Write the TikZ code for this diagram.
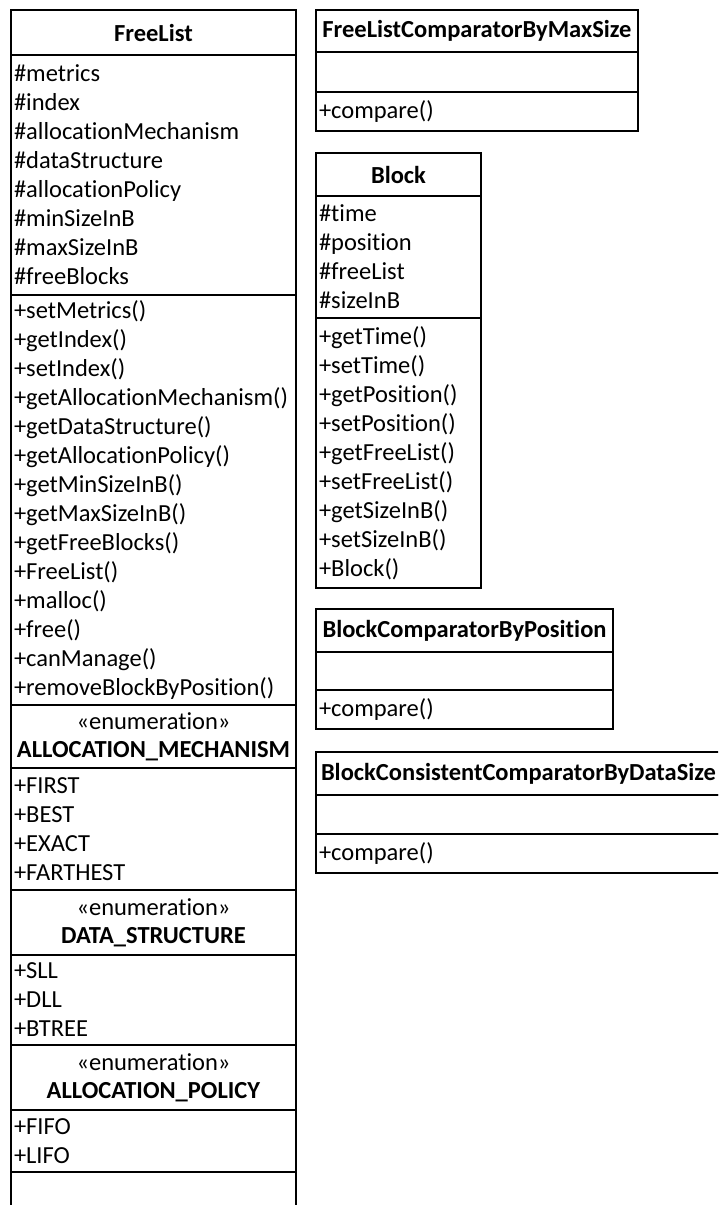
\documentclass[tikz,border=0pt]{standalone}
\usepackage{fontspec}
\setmainfont{Carlito}[Ligatures=NoCommon]
\usetikzlibrary{positioning}
\tikzset{
part/.style={draw, line width=1.4pt, outer sep=0pt, inner xsep=3pt, inner ysep=1pt, font=\fontsize{24.5}{29}\selectfont},
classname/.style={part, align=center, font=\fontsize{24.5}{29}\selectfont\bfseries},
members/.style={part, align=left},
enumhead/.style={part, align=center, font=\fontsize{24.5}{28}\selectfont},
}

\begin{document}
\begin{tikzpicture}[x=1pt,y=-1pt]
\clip (0,0) rectangle (718,1205);

% FreeList with its nested enumerations
\node[classname, anchor=north west, text width=279pt, minimum height=45pt] (freelist) at (11,10) {FreeList};
\node[members, text width=279pt, minimum height=240pt, below=0pt of freelist] (freelist_attrs)
  {\#metrics\\\#index\\\#allocationMechanism\\\#dataStructure\\\#allocationPolicy\\\#minSizeInB\\\#maxSizeInB\\\#freeBlocks};
\node[members, text width=279pt, minimum height=410pt, below=0pt of freelist_attrs] (freelist_ops)
  {+setMetrics()\\+getIndex()\\+setIndex()\\+getAllocationMechanism()\\+getDataStructure()\\+getAllocationPolicy()\\+getMinSizeInB()\\+getMaxSizeInB()\\+getFreeBlocks()\\+FreeList()\\+malloc()\\+free()\\+canManage()\\+removeBlockByPosition()};
\node[enumhead, text width=279pt, minimum height=63pt, below=0pt of freelist_ops] (mechanism)
  {«enumeration»\\\textbf{ALLOCATION\_MECHANISM}};
\node[members, text width=279pt, minimum height=122pt, below=0pt of mechanism] (mechanism_items)
  {+FIRST\\+BEST\\+EXACT\\+FARTHEST};
\node[enumhead, text width=279pt, minimum height=65pt, below=0pt of mechanism_items] (structure)
  {«enumeration»\\\textbf{DATA\_STRUCTURE}};
\node[members, text width=279pt, minimum height=90pt, below=0pt of structure] (structure_items)
  {+SLL\\+DLL\\+BTREE};
\node[enumhead, text width=279pt, minimum height=65pt, below=0pt of structure_items] (policy)
  {«enumeration»\\\textbf{ALLOCATION\_POLICY}};
\node[members, text width=279pt, minimum height=62pt, below=0pt of policy] (policy_items)
  {+FIFO\\+LIFO};
\node[part, text width=279pt, minimum height=60pt, below=0pt of policy_items] (freelist_rest) {};

% comparator for free lists
\node[classname, anchor=north west, text width=316pt, minimum height=42pt] (maxsize_cmp) at (316,10) {FreeListComparatorByMaxSize};
\node[part, text width=316pt, minimum height=40pt, below=0pt of maxsize_cmp] (maxsize_cmp_attrs) {};
\node[members, text width=316pt, minimum height=39pt, below=0pt of maxsize_cmp_attrs] (maxsize_cmp_ops) {+compare()};

% Block
\node[classname, anchor=north west, text width=159pt, minimum height=43pt] (block) at (316,153) {Block};
\node[members, text width=159pt, minimum height=122pt, below=0pt of block] (block_attrs)
  {\#time\\\#position\\\#freeList\\\#sizeInB};
\node[members, text width=159pt, minimum height=270pt, below=0pt of block_attrs] (block_ops)
  {+getTime()\\+setTime()\\+getPosition()\\+setPosition()\\+getFreeList()\\+setFreeList()\\+getSizeInB()\\+setSizeInB()\\+Block()};

% comparators for blocks
\node[classname, anchor=north west, text width=291pt, minimum height=43pt] (position_cmp) at (316,609) {BlockComparatorByPosition};
\node[part, text width=291pt, minimum height=38pt, below=0pt of position_cmp] (position_cmp_attrs) {};
\node[members, text width=291pt, minimum height=39pt, below=0pt of position_cmp_attrs] (position_cmp_ops) {+compare()};

\node[classname, align=left, anchor=north west, text width=404pt, minimum height=43pt] (datasize_cmp) at (316,752) {\hspace*{2pt}BlockConsistentComparatorByDataSize};
\node[part, text width=404pt, minimum height=39pt, below=0pt of datasize_cmp] (datasize_cmp_attrs) {};
\node[members, text width=404pt, minimum height=39pt, below=0pt of datasize_cmp_attrs] (datasize_cmp_ops) {+compare()};
\end{tikzpicture}
\end{document}
